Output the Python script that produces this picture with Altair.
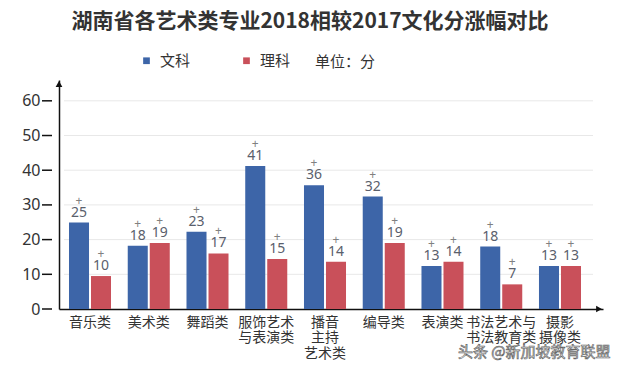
import altair as alt
import pandas as pd

categories = ["音乐类", "美术类", "舞蹈类", "服饰艺术\n与表演类", "播音\n主持\n艺术类",
              "编导类", "表演类", "书法艺术与\n书法教育类", "摄影\n摄像类"]
series = ["文科", "理科"]
wenke_values = [24.9, 18.2, 22.3, 41.2, 35.7, 32.4, 12.4, 18.0, 12.4]
like_values = [9.5, 19.0, 16.0, 14.4, 13.6, 19.0, 13.6, 7.1, 12.4]
wenke_labels = ["25", "18", "23", "41", "36", "32", "13", "18", "13"]
like_labels = ["10", "19", "17", "15", "14", "19", "14", "7", "13"]
colors = ["#3d65a8", "#c9505a"]
y_ticks = [0, 10, 20, 30, 40, 50, 60]
grid_values = [10, 20, 30, 40, 50, 60]

FONT = "Noto Sans CJK SC"

rows = []
for i, c in enumerate(categories):
    rows.append({"cat": c, "type": "文科", "value": wenke_values[i], "label": wenke_labels[i]})
    rows.append({"cat": c, "type": "理科", "value": like_values[i], "label": like_labels[i]})
df = pd.DataFrame(rows)

W, H = 544, 229

xaxis = alt.Axis(title=None, labelAngle=0, ticks=False, domainColor="#111",
                 domainWidth=1.5, labelFont=FONT, labelFontSize=14,
                 labelColor="#333", labelPadding=6, labelBaseline="top",
                 labelLineHeight=15.5, labelLimit=200,
                 labelExpr="split(datum.label, '\\n')")
yaxis = alt.Axis(title=None, values=y_ticks, grid=False, ticks=False,
                 domainColor="#111", domainWidth=1.5, labelPadding=19,
                 labelFont="Noto Sans", labelFontSize=16, labelColor="#333")
xscale = alt.Scale(paddingInner=0, paddingOuter=0.13, align=0.107)
xenc = alt.X("cat:N", sort=categories, scale=xscale, axis=xaxis)
xoff = alt.XOffset("type:N", sort=series,
                   scale=alt.Scale(paddingInner=0.09, paddingOuter=0.38))
yscale = alt.Scale(domain=[0, 66], nice=False)

grid = alt.Chart(pd.DataFrame({"g": grid_values})).mark_rule(
    color="#e8e8e8", strokeWidth=1).encode(
    y=alt.Y("g:Q", scale=yscale, axis=yaxis),
    x=alt.value(5), x2=alt.value(534))

bars = alt.Chart(df).mark_bar().encode(
    x=xenc, xOffset=xoff,
    y=alt.Y("value:Q", scale=yscale, axis=yaxis),
    color=alt.Color("type:N", sort=series,
                    scale=alt.Scale(domain=series, range=colors),
                    legend=alt.Legend(title=None, orient="none", legendX=80, legendY=-27,
                                      direction="horizontal", symbolType="square",
                                      symbolSize=45, symbolStrokeWidth=0,
                                      labelFont=FONT, labelFontSize=15, labelColor="#333",
                                      columnPadding=48, labelOffset=6)))

nums = alt.Chart(df).mark_text(baseline="bottom", dy=-3, font="Noto Sans",
                               fontSize=14, color="#5a606c").encode(
    x=xenc, xOffset=xoff,
    y=alt.Y("value:Q", scale=yscale, axis=yaxis), text="label:N")

plus = alt.Chart(df).mark_text(baseline="middle", dy=-22, font="Noto Sans",
                               fontSize=12, color="#808080").encode(
    x=xenc, xOffset=xoff,
    y=alt.Y("value:Q", scale=yscale, axis=yaxis), text=alt.value("+"))

yt = alt.Chart(pd.DataFrame({"t": y_ticks})).mark_rule(color="#111", strokeWidth=1.5).encode(
    y=alt.Y("t:Q", scale=yscale, axis=yaxis), x=alt.value(-17), x2=alt.value(-7))

arrow_up = alt.Chart(pd.DataFrame({"a": [0]})).mark_point(
    shape="triangle-up", filled=True, color="#111", size=45, opacity=1).encode(
    x=alt.value(0), y=alt.value(4))
arrow_right = alt.Chart(pd.DataFrame({"a": [0]})).mark_point(
    shape="triangle-right", filled=True, color="#111", size=45, opacity=1).encode(
    x=alt.value(W - 4), y=alt.value(H))

title = alt.Chart(pd.DataFrame({"t": ["湖南省各艺术类专业2018相较2017文化分涨幅对比"]})).mark_text(
    font=FONT, fontSize=21, fontWeight="bold", color="#333", align="center",
    baseline="middle").encode(x=alt.value(251), y=alt.value(-58), text="t:N")

unit = alt.Chart(pd.DataFrame({"t": ["单位：分"]})).mark_text(
    font=FONT, fontSize=15, color="#333", align="left", baseline="middle").encode(
    x=alt.value(256), y=alt.value(-18), text="t:N")

mark = alt.Chart(pd.DataFrame({"t": ["头条 @新加坡教育联盟"]})).mark_text(
    font=FONT, fontSize=15, fill="#ffffff", stroke="#666", strokeWidth=0.7,
    align="left", baseline="middle").encode(
    x=alt.value(399), y=alt.value(272), text="t:N")

chart = alt.layer(grid, bars, nums, plus, yt, arrow_up, arrow_right, title, unit, mark).properties(
    width=W, height=H,
    autosize=alt.AutoSizeParams(type="none"),
    padding={"left": 51, "top": 72, "right": 28, "bottom": 54},
    background="white",
).configure_view(stroke=None)

chart.save("out.html", embed_options={"renderer": "svg", "actions": False})
